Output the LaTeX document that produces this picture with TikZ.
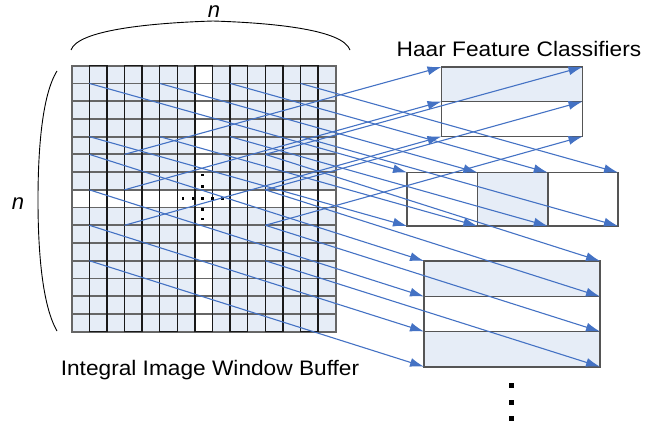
\documentclass[tikz,border=0pt]{standalone}
\usepackage{graphicx}
\usepackage{fontspec}
\setmainfont{Liberation Sans}
\usetikzlibrary{arrows.meta}
\definecolor{cellblue}{RGB}{230,237,247}
\definecolor{arrowblue}{RGB}{68,114,196}
\definecolor{boxgray}{RGB}{85,85,85}
\tikzset{
  haar arrow/.style={arrowblue, line width=1.1pt, -{Latex[length=14pt,width=9pt]}},
  rowline/.style={draw=black!60, line width=1.8pt},
  colline/.style={draw=black!90, line width=1.5pt},
  haarbox/.style={draw=boxgray, line width=1.7pt},
  label text/.style={font=\fontsize{21}{24}\selectfont, inner sep=0pt},
  dim text/.style={font=\fontsize{22}{24}\selectfont\itshape, inner sep=0pt}
}
\begin{document}
\begin{tikzpicture}[x=1pt, y=-1pt]
\useasboundingbox (0,0) rectangle (647,428);
% grid points of the window buffer
\foreach \i in {0,...,15}
  \foreach \j in {0,...,15}
    \coordinate (g-\i-\j) at ({71.7+17.6*\i},{65.7+17.73*\j});
\fill[cellblue] (g-0-0) rectangle (g-15-15);
\fill[white] (g-7-0) rectangle (g-8-15); %middle column
\fill[white] (g-0-7) rectangle (g-15-8); %middle row
\foreach \j [evaluate=\j as \jn using int(\j+1)] in {0,...,14}
  \draw[rowline] (g-0-\j) rectangle (g-15-\jn);
\foreach \i [evaluate=\i as \in using int(\i+1)] in {1,3,...,13}
  \draw[colline] (g-\i-0) rectangle (g-\in-15);
% dots in the centre of the window
\foreach \y in {175,186.5,198.5,209.3,219}
  \fill (201.3,\y-1.4) rectangle (204.1,\y+1.4);
\foreach \x in {183,193,212.5,222.5}
  \fill (\x-1.4,197.1) rectangle (\x+1.4,199.9);
% braces with the size n
\draw[line width=0.9pt] (71,50) .. controls (78,30) and (150,23) .. (213,21) .. controls (276,23) and (343,30) .. (350,50);
\draw[line width=0.9pt] (57,71) .. controls (42,95) and (38,150) .. (38,200) .. controls (38,250) and (42,305) .. (57,331);
\node[dim text] (n-top) at (214,12) {n};
\node[dim text] (n-left) at (18,204) {n};
\node[label text] (buffer) at (210,370) {\scalebox{1.08}[1]{Integral Image Window Buffer}};
\node[label text] (classifiers) at (519,49) {\scalebox{1.08}[1]{Haar Feature Classifiers}};
% classifier 1: two halves one above the other
\fill[cellblue] (441.5,67) rectangle (582.5,101.5);
\draw[haarbox] (441.5,67) rectangle (582.5,136.5);
\draw[haarbox] (441.5,101.5) -- (582.5,101.5);
\foreach \k/\y in {0/67,1/101.5,2/136.5} {
  \coordinate (c1-l\k) at (441.5,\y);
  \coordinate (c1-r\k) at (582.5,\y);
}
% classifier 2: three parts side by side
\fill[cellblue] (477.4,172.5) rectangle (547.7,226);
\draw[haarbox] (407,172.5) rectangle (618,226);
\draw[haarbox] (477.4,172.5) -- (477.4,226) (547.7,172.5) -- (547.7,226);
\foreach \k/\x in {0/407,1/477.4,2/547.7,3/618} {
  \coordinate (c2-t\k) at (\x,172.5);
  \coordinate (c2-b\k) at (\x,226);
}
% classifier 3: three stripes
\fill[cellblue] (424,261) rectangle (600,296.5);
\fill[cellblue] (424,331.5) rectangle (600,366.7);
\draw[haarbox] (424,261) rectangle (600,366.7);
\draw[haarbox] (424,296.5) -- (600,296.5) (424,331.5) -- (600,331.5);
\foreach \k/\y in {0/261,1/296.5,2/331.5,3/366.7} {
  \coordinate (c3-l\k) at (424,\y);
  \coordinate (c3-r\k) at (600,\y);
}
\foreach \y in {385.7,402,418.3}
  \fill (509.2,\y-2.5) rectangle (514.2,\y+2.5); %more classifiers
% arrows from the window to the classifiers
\foreach \k/\j in {0/5,1/7,2/9} {
  \draw[haar arrow] (g-3-\j) -- (c1-l\k);
  \draw[haar arrow] (g-11-\j) -- (c1-r\k);
}
\foreach \k/\i in {0/1,1/5,2/9,3/13} {
  \draw[haar arrow] (g-\i-1) -- (c2-t\k);
  \draw[haar arrow] (g-\i-4) -- (c2-b\k);
}
\foreach \k/\j in {0/5,1/7,2/9,3/11} {
  \draw[haar arrow] (g-1-\j) -- (c3-l\k);
  \draw[haar arrow] (g-11-\j) -- (c3-r\k);
}
\end{tikzpicture}
\end{document}
